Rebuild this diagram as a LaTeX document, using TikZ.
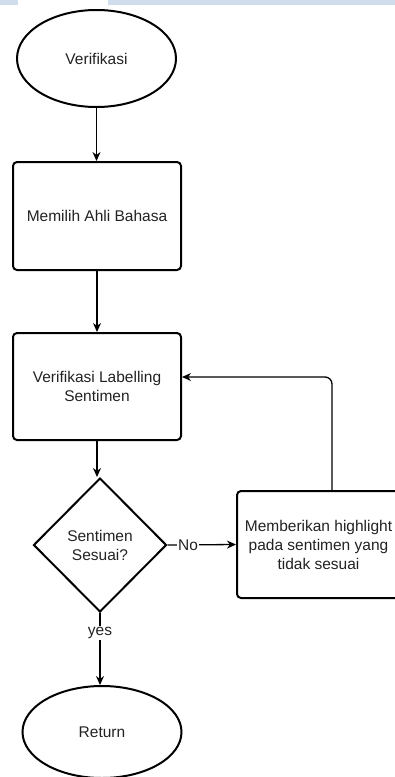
\documentclass[tikz,border=0pt]{standalone}
\usepackage{fontspec}
\setmainfont{Liberation Sans}
\usetikzlibrary{shapes.geometric,arrows.meta}
\definecolor{barblue}{HTML}{CFDDED}
\definecolor{txt}{HTML}{222222}
\begin{document}
\begin{tikzpicture}[x=1pt,y=-1pt,
  every node/.style={font=\fontsize{15.5}{19}\selectfont, text=txt, align=center},
  term/.style={ellipse, draw, line width=2pt, inner sep=0pt},
  procbox/.style={rectangle, draw, line width=2pt, rounded corners=4pt, inner sep=0pt},
  decision/.style={diamond, draw, line width=2pt, inner sep=0pt},
  conn/.style={draw, line width=1.3pt, -{Stealth[length=9pt,width=8pt]}},
  lbl/.style={fill=white, inner sep=1pt}]
\useasboundingbox (0,0) rectangle (395,777);
\fill[barblue] (0,0) rectangle (18,5);
\fill[barblue] (108,0) rectangle (395,5);
\node[term, minimum width=159pt, minimum height=97pt] (start) at (96.5,58.5) {Verifikasi};
\node[procbox, minimum width=168pt, minimum height=108pt] (b1) at (97,216) {Memilih Ahli Bahasa};
\node[procbox, minimum width=168pt, minimum height=107pt] (b2) at (97,386.5) {Verifikasi Labelling\\Sentimen};
\node[decision, minimum width=133pt, minimum height=134pt] (d) at (100,545) {Sentimen\\Sesuai?};
\node[procbox, minimum width=163pt, minimum height=107pt] (rb) at (318.5,544.5) {Memberikan highlight\\pada sentimen yang\\tidak sesuai};
\node[term, minimum width=159pt, minimum height=92pt] (ret) at (102,732) {Return};
\draw[conn] (start.south) -- (start.south |- b1.north);
\draw[conn] (b1.south) -- (b1.south |- b2.north);
\draw[conn] (b2.south) -- (b2.south |- d.north);
\draw[conn] (d.east) -- node[lbl, pos=0.3] {No} (rb.west);
\draw[conn] (d.south) -- node[lbl, pos=0.28] {yes} (d.south |- ret.north);
\coordinate (fbs) at (332,491);
\draw[conn, rounded corners=7pt] (fbs) |- ([yshift=9.5pt]b2.east);
\end{tikzpicture}
\end{document}
